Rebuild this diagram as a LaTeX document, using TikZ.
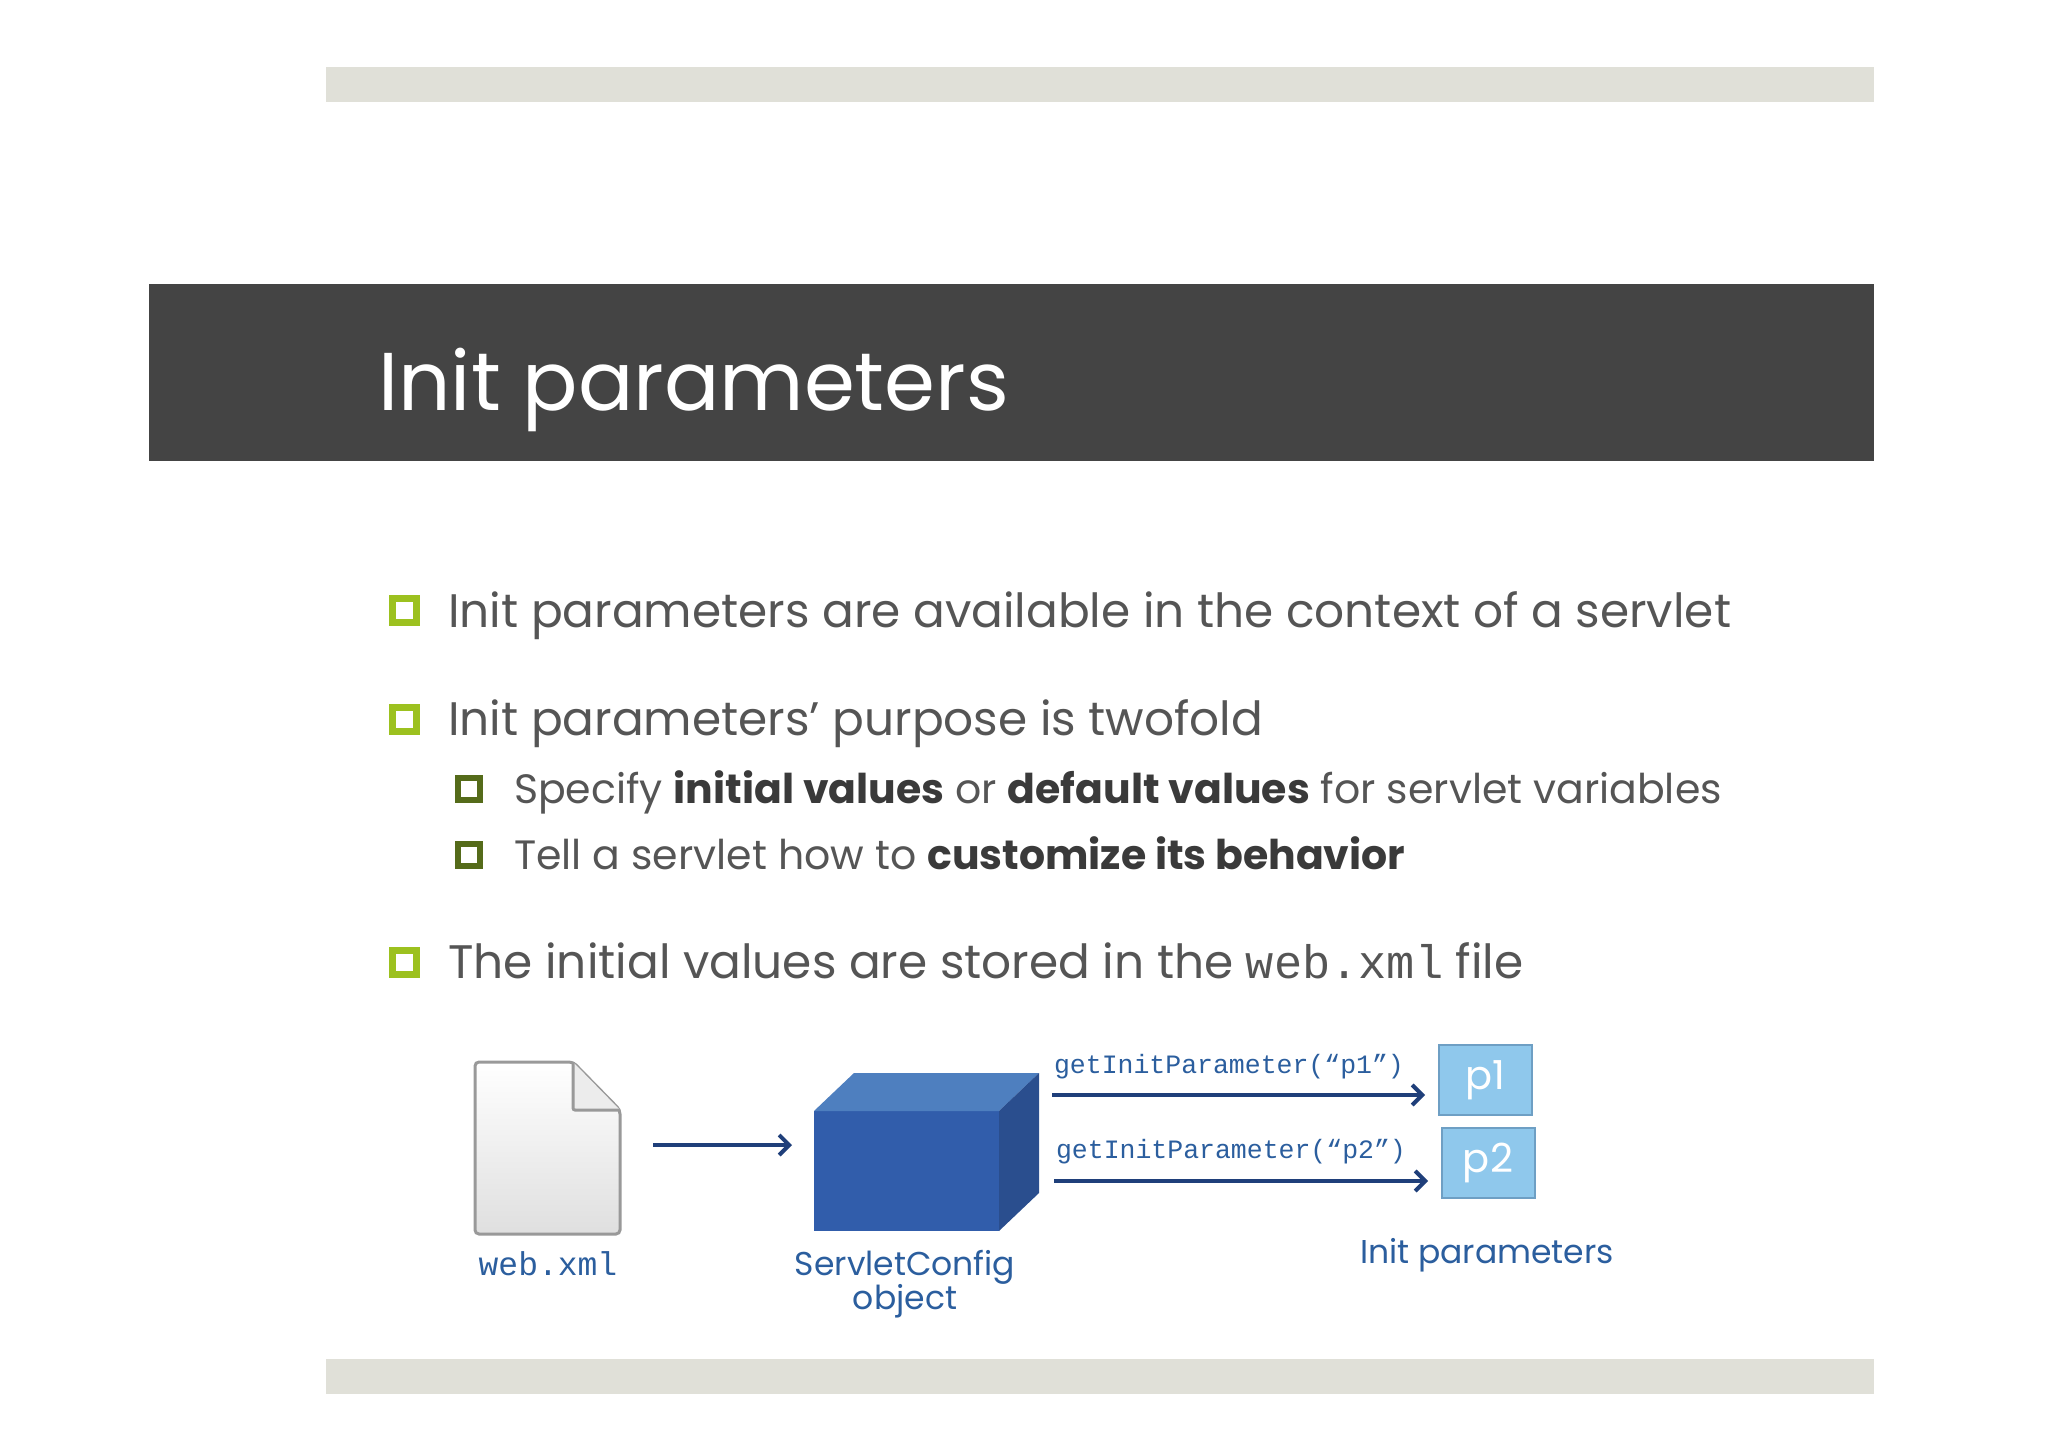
\documentclass[tikz,border=0pt]{standalone}
\usetikzlibrary{arrows.meta}
\usepackage{fontspec}
\setmainfont{Poppins}
\newfontfamily\mono{Liberation Mono}
\begin{document}
\begin{tikzpicture}[x=1pt,y=-1pt,
  bar/.style={fill=barc,draw=none},
  bul/.style={draw=bulg,line width=7pt,minimum size=24pt,inner sep=0pt,fill=white},
  sbul/.style={draw=sbulg,line width=6pt,minimum size=22pt,inner sep=0pt,fill=white},
  body/.style={anchor=base west,text=bodyc,font=\fontsize{47}{56}\selectfont,inner sep=0pt},
  sbody/.style={anchor=base west,text=bodyc,font=\fontsize{41}{48}\selectfont,inner sep=0pt},
  lab/.style={text=labc,font=\fontsize{33}{38}\selectfont,align=center,inner sep=0pt},
  arr/.style={draw=arrc,line width=4pt,-{Straight Barb[length=10pt,width=20pt,line width=4pt]}},
  pbox/.style={fill=pboxc,draw=pboxd,line width=2pt,text=white,font=\fontsize{40}{46}\selectfont,minimum width=93pt,minimum height=70pt,inner sep=0pt}]
\definecolor{barc}{HTML}{E0E0D8}
\definecolor{titlec}{HTML}{444444}
\definecolor{bulg}{HTML}{9CC11F}
\definecolor{sbulg}{HTML}{556B1A}
\definecolor{bodyc}{HTML}{555555}
\definecolor{boldc}{HTML}{3A3A3A}
\definecolor{labc}{HTML}{2B5E9E}
\definecolor{arrc}{HTML}{1F3F7A}
\definecolor{pboxc}{HTML}{8FC8EC}
\definecolor{pboxd}{HTML}{6E9FC4}
\definecolor{cubef}{HTML}{315DAB}
\definecolor{cubet}{HTML}{4E7FBF}
\definecolor{cubes}{HTML}{2A4E8E}
\useasboundingbox (0,0) rectangle (2048,1447);
\fill[white] (0,0) rectangle (2048,1447);
\fill[bar] (326,67) rectangle (1874,102);
\fill[bar] (326,1359) rectangle (1874,1394);
\fill[titlec] (149,284) rectangle (1874,461);
\node[anchor=base west,text=white,font=\fontsize{82}{90}\selectfont,inner sep=0pt] (title) at (378,410) {Init parameters};
% bullets
\node[bul] (b1) at (404,610) {};
\node[body] (t1) at (448,627) {Init parameters are available in the context of a servlet};
\node[bul] (b2) at (404,719) {};
\node[body] (t2) at (448,735) {Init parameters’ purpose is twofold};
\node[sbul] (s1) at (469,789) {};
\node[sbody] (u1) at (514,803) {Specify \textcolor{boldc}{\bfseries initial values} or \textcolor{boldc}{\bfseries default values} for servlet variables};
\node[sbul] (s2) at (469,855) {};
\node[sbody] (u2) at (514,869) {Tell a servlet how to \textcolor{boldc}{\bfseries customize its behavior}};
\node[bul] (b3) at (404,962) {};
\node[body] (t3) at (448,978) {The initial values are stored in the {\mono web.xml} file};
% document icon
\shade[top color=white,bottom color=gray!25,draw=gray!80,line width=3pt,rounded corners=4pt]
  (475,1062) -- (573,1062) -- (620,1110) -- (620,1234) -- (475,1234) -- cycle;
\draw[gray!80,line width=3pt,fill=gray!15,rounded corners=2pt] (573,1062) -- (573,1110) -- (620,1110);
\coordinate (docR) at (653,1145);
\node[lab,font=\mono\fontsize{33}{38}\selectfont] (wx) at (548,1264) {web.xml};
% cube
\fill[cubef] (814,1111) rectangle (999,1231);
\fill[cubet] (814,1111) -- (854,1073) -- (1039,1073) -- (999,1111) -- cycle;
\fill[cubes] (999,1111) -- (1039,1073) -- (1039,1193) -- (999,1231) -- cycle;
\coordinate (cubeL) at (792,1145);
\draw[arr] (docR) -- (cubeL);
\node[lab] (sc) at (905,1284) {ServletConfig\\[-4pt]object};
% params
\node[pbox] (p1) at (1485,1080) {p1};
\node[pbox] (p2) at (1488,1163) {p2};
\coordinate (a1s) at (1052,1095);
\coordinate (a2s) at (1054,1181);
\coordinate (a1e) at (1425,1095);
\coordinate (a2e) at (1428,1181);
\draw[arr] (a1s) -- (a1e);
\draw[arr] (a2s) -- (a2e);
\node[text=labc,font=\mono\fontsize{26.5}{30}\selectfont,inner sep=0pt] (g1) at (1229,1067) {getInitParameter(“p1”)};
\node[text=labc,font=\mono\fontsize{26.5}{30}\selectfont,inner sep=0pt] (g2) at (1231,1152) {getInitParameter(“p2”)};
\node[lab] (ip) at (1487,1255) {Init parameters};
\end{tikzpicture}
\end{document}
